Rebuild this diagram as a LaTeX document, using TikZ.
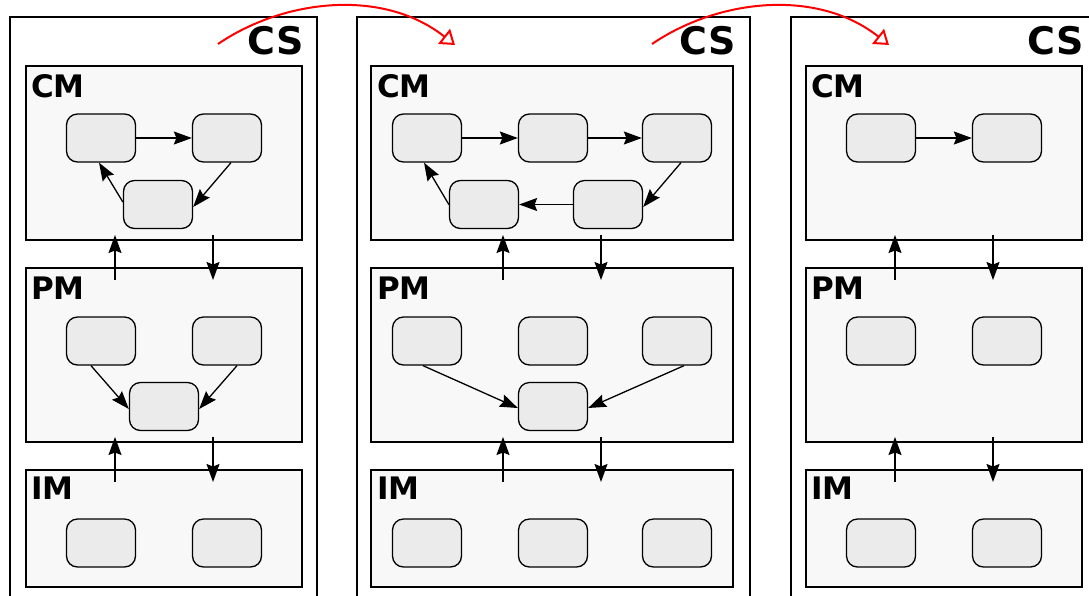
\documentclass[tikz,border=0pt]{standalone}
\usepackage{fontspec}
\setmainfont{DejaVu Sans}
\usetikzlibrary{arrows.meta}
\definecolor{modfill}{RGB}{248,248,248}
\definecolor{blkfill}{RGB}{235,235,235}
\begin{document}
\begin{tikzpicture}[x=1pt,y=-1pt,
  outerbox/.style={draw=black,line width=2pt,fill=white},
  modbox/.style={draw=black,line width=2.3pt,fill=modfill,rectangle,inner sep=0pt,outer sep=0pt,anchor=north west},
  blk/.style={draw=black,line width=1.3pt,fill=blkfill,rectangle,rounded corners=11pt,minimum width=69pt,minimum height=48pt,inner sep=0pt},
  arr/.style={line width=1.3pt,-{Stealth[length=18pt,width=13pt,inset=2.5pt]}},
  redarr/.style={draw=red,line width=2pt,-{Triangle[open,length=14pt,width=19pt]}},
  modlbl/.style={font=\fontsize{31pt}{31pt}\selectfont\bfseries,inner sep=0pt,anchor=base west},
  cslbl/.style={font=\fontsize{38pt}{38pt}\selectfont\bfseries,inner sep=0pt,anchor=base east}
]
\clip (0,0) rectangle (1089,595);
% ---------- outer CS boxes ----------
\draw[outerbox] (10,17) rectangle (317,640);
\draw[outerbox] (357,17) rectangle (750,640);
\draw[outerbox] (791,17) rectangle (1110,640);
\node[cslbl] (cs1) at (304,54) {CS};
\node[cslbl] (cs2) at (736,54) {CS};
\node[cslbl] (cs3) at (1084,54) {CS};

% ---------- panel 1 ----------
\node[modbox,minimum width=276pt,minimum height=174pt] (cm1) at (26,66) {};
\node[modbox,minimum width=276pt,minimum height=174pt] (pm1) at (26,268) {};
\node[modbox,minimum width=276pt,minimum height=117pt] (im1) at (26,470) {};
\node[modlbl] (cml1) at (31,97) {CM};
\node[modlbl] (pml1) at (31,299) {PM};
\node[modlbl] (iml1) at (31,499) {IM};

\node[blk] (c1a) at (101,138) {};
\node[blk] (c1b) at (227,138) {};
\node[blk] (c1c) at (158,204.5) {};
\draw[arr] (c1a.east) -- (c1b.west);
\draw[arr] ([xshift=4pt]c1b.south) -- ([yshift=-2.5pt]c1c.east);
\draw[arr] ([yshift=2.5pt]c1c.west) -- ([xshift=-2pt]c1a.south);

\node[blk] (p1a) at (101,341) {};
\node[blk] (p1b) at (227,341) {};
\node[blk] (p1c) at (164,406.5) {};
\draw[arr] ([xshift=-10pt]p1a.south) -- ([yshift=-2.5pt]p1c.west);
\draw[arr] ([xshift=10pt]p1b.south) -- ([yshift=-2.5pt]p1c.east);

\node[blk] (i1a) at (101,543) {};
\node[blk] (i1b) at (227,543) {};

\coordinate (u1a) at (115,280); \coordinate (u1b) at (115,235);
\coordinate (d1a) at (213,235); \coordinate (d1b) at (213,280);
\coordinate (u1c) at (115,482); \coordinate (u1d) at (115,437);
\coordinate (d1c) at (213,437); \coordinate (d1d) at (213,482);
\draw[arr] (u1a) -- (u1b);
\draw[arr] (d1a) -- (d1b);
\draw[arr] (u1c) -- (u1d);
\draw[arr] (d1c) -- (d1d);

% ---------- panel 2 ----------
\node[modbox,minimum width=362pt,minimum height=174pt] (cm2) at (371,66) {};
\node[modbox,minimum width=362pt,minimum height=174pt] (pm2) at (371,268) {};
\node[modbox,minimum width=362pt,minimum height=117pt] (im2) at (371,470) {};
\node[modlbl] (cml2) at (377,97) {CM};
\node[modlbl] (pml2) at (377,299) {PM};
\node[modlbl] (iml2) at (377,499) {IM};

\node[blk] (c2a) at (427,138) {};
\node[blk] (c2b) at (553,138) {};
\node[blk] (c2c) at (677,138) {};
\node[blk] (c2d) at (608,204.5) {};
\node[blk] (c2e) at (484,204.5) {};
\draw[arr] (c2a.east) -- (c2b.west);
\draw[arr] (c2b.east) -- (c2c.west);
\draw[arr] ([xshift=4pt]c2c.south) -- ([yshift=-2.5pt]c2d.east);
\draw[arr] (c2d.west) -- (c2e.east);
\draw[arr] (c2e.west) -- ([xshift=-3pt]c2a.south);

\node[blk] (p2a) at (427,341) {};
\node[blk] (p2b) at (553,341) {};
\node[blk] (p2c) at (677,341) {};
\node[blk] (p2d) at (553,406.5) {};
\draw[arr] ([xshift=-4pt]p2a.south) -- ([yshift=-1.5pt]p2d.west);
\draw[arr] ([xshift=7pt]p2c.south) -- ([yshift=-1.5pt]p2d.east);

\node[blk] (i2a) at (427,543) {};
\node[blk] (i2b) at (553,543) {};
\node[blk] (i2c) at (677,543) {};

\coordinate (u2a) at (503,280); \coordinate (u2b) at (503,235);
\coordinate (d2a) at (601,235); \coordinate (d2b) at (601,280);
\coordinate (u2c) at (503,482); \coordinate (u2d) at (503,437);
\coordinate (d2c) at (601,437); \coordinate (d2d) at (601,482);
\draw[arr] (u2a) -- (u2b);
\draw[arr] (d2a) -- (d2b);
\draw[arr] (u2c) -- (u2d);
\draw[arr] (d2c) -- (d2d);

% ---------- panel 3 ----------
\node[modbox,minimum width=276pt,minimum height=174pt] (cm3) at (806,66) {};
\node[modbox,minimum width=276pt,minimum height=174pt] (pm3) at (806,268) {};
\node[modbox,minimum width=276pt,minimum height=117pt] (im3) at (806,470) {};
\node[modlbl] (cml3) at (811,97) {CM};
\node[modlbl] (pml3) at (811,299) {PM};
\node[modlbl] (iml3) at (811,499) {IM};

\node[blk] (c3a) at (881,138) {};
\node[blk] (c3b) at (1007,138) {};
\draw[arr] (c3a.east) -- (c3b.west);

\node[blk] (p3a) at (881,341) {};
\node[blk] (p3b) at (1007,341) {};

\node[blk] (i3a) at (881,543) {};
\node[blk] (i3b) at (1007,543) {};

\coordinate (u3a) at (895,280); \coordinate (u3b) at (895,235);
\coordinate (d3a) at (993,235); \coordinate (d3b) at (993,280);
\coordinate (u3c) at (895,482); \coordinate (u3d) at (895,437);
\coordinate (d3c) at (993,437); \coordinate (d3d) at (993,482);
\draw[arr] (u3a) -- (u3b);
\draw[arr] (d3a) -- (d3b);
\draw[arr] (u3c) -- (u3d);
\draw[arr] (d3c) -- (d3d);

% ---------- red transitions ----------
\coordinate (rs1) at (218,44); \coordinate (re1) at (455,45);
\coordinate (rs2) at (652,44); \coordinate (re2) at (889,45);
\draw[redarr] (rs1) .. controls (284,-1) and (383,-12) .. (re1);
\draw[redarr] (rs2) .. controls (718,-1) and (817,-12) .. (re2);
\end{tikzpicture}
\end{document}
